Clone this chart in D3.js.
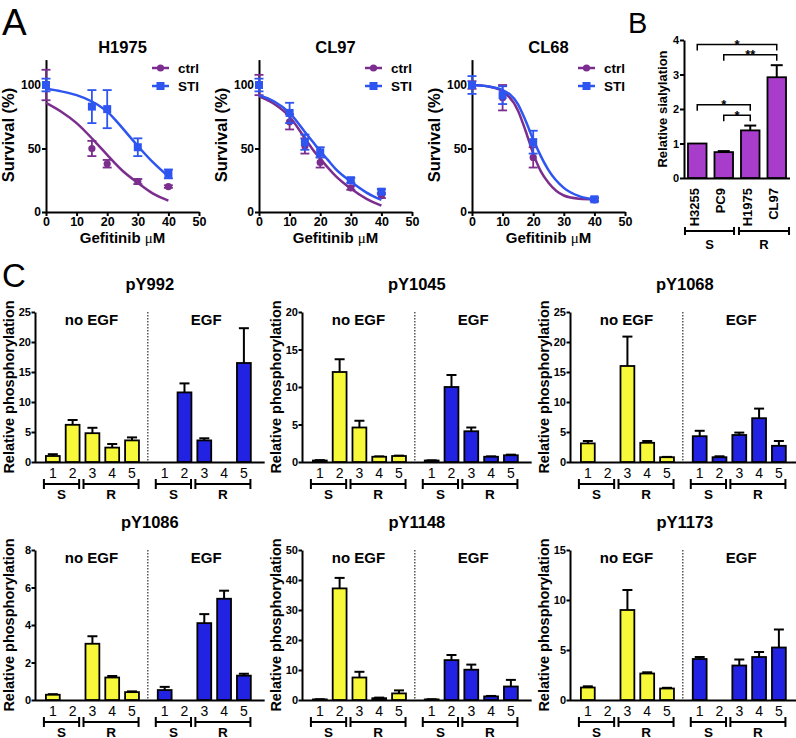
<!DOCTYPE html>
<html>
<head>
<meta charset="utf-8">
<script src="https://cdn.jsdelivr.net/npm/d3@7"></script>
<style>
body { margin: 0; background: #fff; }
svg { display: block; }
</style>
</head>
<body>
<svg id="fig" width="796" height="738"></svg>
<script>
/* ---- panel A: survival data ---- */
var doseTicks = [0, 10, 20, 30, 40, 50];
var survTicks = [0, 50, 100];
var fitDose = [0, 5, 10, 15, 17.5, 20, 22.5, 25, 30, 35, 40];

var h1975Dose = [0, 15, 20, 30, 40];
var h1975Ctrl = [100, 50, 38, 24, 20];
var h1975CtrlErr = [12, 6, 3, 2, 1];
var h1975Sti = [100, 83, 81, 51, 30];
var h1975StiErr = [5, 13, 15, 7, 3.5];
var h1975CtrlFit = [86, 79, 70, 58, 51.5, 45, 38.5, 32.5, 23, 14.5, 9];
var h1975StiFit = [97, 95, 92, 87, 83.5, 79, 73, 66, 52, 39, 28];

var cl97Dose = [0, 10, 15, 20, 30, 40];
var cl97Ctrl = [100, 71, 52, 39, 19, 13];
var cl97CtrlErr = [8, 6, 6, 4, 1.5, 2];
var cl97Sti = [100, 78, 55, 47, 25, 16];
var cl97StiErr = [5, 8, 6, 4, 2, 2];
var cl97CtrlFit = [91, 85, 75, 58, 49.5, 42, 35, 28.5, 18.5, 10.5, 5];
var cl97StiFit = [92, 87, 78, 63, 55.5, 48, 41, 34, 24, 15.5, 9.5];

var cl68Dose = [0, 10, 20, 40];
var cl68Ctrl = [100, 90, 43, 9.5];
var cl68CtrlErr = [3, 10, 8, 1];
var cl68Sti = [100, 92, 55, 10];
var cl68StiErr = [7, 7, 9, 1.5];
var cl68CtrlFit = [100, 99, 95, 80, 64, 46, 32, 23, 13, 10.5, 10];
var cl68StiFit = [100, 99, 96, 85, 72, 57, 44, 33, 19, 12.5, 10];

var survNames = ["H1975", "CL97", "CL68"];
var survSeries = ["ctrl", "STI"];

/* ---- panel B: sialylation ---- */
var sialCells = ["H3255", "PC9", "H1975", "CL97"];
var sialValue = [1.0, 0.75, 1.38, 2.92];
var sialErr = [0, 0.03, 0.14, 0.35];
var sialTicks = [0, 1, 2, 3, 4];
var sialGroups = [["S", "H3255", "PC9"], ["R", "H1975", "CL97"]];
var sialSig = [["PC9", "H1975", "*"], ["H3255", "H1975", "*"], ["PC9", "CL97", "**"], ["H3255", "CL97", "*"]];

/* ---- panel C: phosphorylation ---- */
var siteNames = ["pY992", "pY1045", "pY1068", "pY1086", "pY1148", "pY1173"];
var lineLabels = ["1", "2", "3", "4", "5"];
var lineGroups = [["S", 0, 1], ["R", 2, 4]];
var siteMax = [25, 20, 25, 8, 50, 15];
var siteStep = [5, 5, 5, 2, 10, 5];
var noEgf = [
  [1.0, 6.2, 4.8, 2.4, 3.6],
  [0.2, 12.0, 4.6, 0.7, 0.8],
  [3.1, 0, 16.0, 3.2, 0.8],
  [0.28, 0, 3.0, 1.2, 0.42],
  [0.2, 37.2, 7.5, 0.6, 2.2],
  [1.25, 0, 9.0, 2.65, 1.15]
];
var noEgfErr = [
  [0.3, 0.8, 0.9, 0.6, 0.5],
  [0.05, 1.7, 0.9, 0.05, 0.05],
  [0.4, 0, 4.9, 0.3, 0.05],
  [0.03, 0, 0.4, 0.08, 0.04],
  [0.05, 3.5, 1.9, 0.2, 1.0],
  [0.12, 0, 2.0, 0.12, 0.07]
];
var egf = [
  [0, 11.6, 3.6, 0, 16.5],
  [0.2, 10.0, 4.1, 0.7, 0.9],
  [4.3, 0.8, 4.5, 7.3, 2.7],
  [0.53, 0, 4.1, 5.4, 1.3],
  [0.2, 13.3, 10.1, 1.2, 4.5],
  [4.1, 0, 3.45, 4.3, 5.25]
];
var egfErr = [
  [0, 1.5, 0.35, 0, 5.8],
  [0.02, 1.6, 0.5, 0.05, 0.08],
  [0.9, 0.15, 0.4, 1.6, 0.8],
  [0.17, 0, 0.48, 0.43, 0.1],
  [0.05, 1.7, 1.7, 0.15, 2.2],
  [0.2, 0, 0.6, 0.5, 1.8]
];

var FONT = '"Liberation Sans", Arial, Helvetica, sans-serif';
var CTRL = "#7b2e8e", STI = "#2e55f0";
var PURPLE = "#a83dcc", YELLOW = "#f8f83a", BLUE = "#2222e2";
var intFmt = d3.format("d");

var svg = d3.select("#fig").attr("font-family", FONT);
svg.append("rect").attr("width", 796).attr("height", 738).attr("fill", "#fff");

function styleAxis(g, size) {
  g.attr("font-family", FONT).attr("font-size", size).attr("font-weight", "bold");
  g.select(".domain").attr("stroke", "#000").attr("stroke-width", 2);
  g.selectAll(".tick line").attr("stroke", "#000").attr("stroke-width", 2);
  g.selectAll(".tick text").attr("fill", "#000");
}

function label(g, txt, x, y, size, opts) {
  opts = opts || {};
  return g.append("text").attr("x", x).attr("y", y)
    .attr("font-size", size)
    .attr("font-weight", opts.weight || "bold")
    .attr("text-anchor", opts.anchor || "middle")
    .attr("fill", "#000")
    .text(txt);
}

/* ================= Panel A ================= */
label(svg, "A", 2, 35, 37, { weight: "normal", anchor: "start" });

var survData = [
  { dose: h1975Dose, ctrl: h1975Ctrl, ctrlErr: h1975CtrlErr, sti: h1975Sti, stiErr: h1975StiErr, ctrlFit: h1975CtrlFit, stiFit: h1975StiFit },
  { dose: cl97Dose, ctrl: cl97Ctrl, ctrlErr: cl97CtrlErr, sti: cl97Sti, stiErr: cl97StiErr, ctrlFit: cl97CtrlFit, stiFit: cl97StiFit },
  { dose: cl68Dose, ctrl: cl68Ctrl, ctrlErr: cl68CtrlErr, sti: cl68Sti, stiErr: cl68StiErr, ctrlFit: cl68CtrlFit, stiFit: cl68StiFit }
];
var survLeft = [46, 259, 472];

survNames.forEach(function (name, k) {
  var d = survData[k];
  var g = svg.append("g");
  var x = d3.scaleLinear().domain([0, 50]).range([survLeft[k], survLeft[k] + 153]);
  var y = d3.scaleLinear().domain([0, 120]).range([212, 59.6]);

  g.append("g").attr("transform", "translate(0,212)")
    .call(d3.axisBottom(x).tickValues(doseTicks).tickFormat(intFmt).tickSize(4).tickSizeOuter(0).tickPadding(1))
    .call(styleAxis, 12.5);
  g.append("g").attr("transform", "translate(" + survLeft[k] + ",0)")
    .call(d3.axisLeft(y).tickValues(survTicks).tickFormat(intFmt).tickSize(4).tickSizeOuter(0).tickPadding(1))
    .call(styleAxis, 12);

  label(g, name, x(25), 53, 16.5);
  var xl = label(g, "Gefitinib ", x(25), 243, 15);
  xl.append("tspan").attr("font-family", '"Liberation Serif", serif').attr("font-weight", "normal").text("\u03bc");
  xl.append("tspan").text("M");
  label(g, "Survival (%)", 0, 0, 16.5)
    .attr("transform", "translate(" + (survLeft[k] - 32) + ",135) rotate(-90)");

  var line = d3.line().x(function (p) { return x(p[0]); }).y(function (p) { return y(p[1]); })
    .curve(d3.curveMonotoneX);

  [["ctrl", CTRL, d.ctrl, d.ctrlErr, d.ctrlFit], ["STI", STI, d.sti, d.stiErr, d.stiFit]].forEach(function (s) {
    var color = s[1];
    g.append("path").datum(d3.zip(fitDose, s[4]))
      .attr("d", line).attr("fill", "none").attr("stroke", color).attr("stroke-width", 2.5);
    var pts = d3.zip(d.dose, s[2], s[3]);
    var eb = g.append("g").attr("stroke", color).attr("stroke-width", 1.8);
    pts.forEach(function (p) {
      var cx = x(p[0]), y1 = y(p[1] + p[2]), y2 = y(p[1] - p[2]);
      eb.append("line").attr("x1", cx).attr("x2", cx).attr("y1", y1).attr("y2", y2);
      eb.append("line").attr("x1", cx - 4.5).attr("x2", cx + 4.5).attr("y1", y1).attr("y2", y1);
      eb.append("line").attr("x1", cx - 4.5).attr("x2", cx + 4.5).attr("y1", y2).attr("y2", y2);
    });
    if (s[0] === "ctrl") {
      g.selectAll(null).data(pts).enter().append("circle")
        .attr("cx", function (p) { return x(p[0]); }).attr("cy", function (p) { return y(p[1]); })
        .attr("r", 3.6).attr("fill", color);
    } else {
      g.selectAll(null).data(pts).enter().append("rect")
        .attr("x", function (p) { return x(p[0]) - 4; }).attr("y", function (p) { return y(p[1]) - 4; })
        .attr("width", 8).attr("height", 8).attr("fill", color);
    }
  });

  // legend
  survSeries.forEach(function (s, i) {
    var ly = 68 + i * 18, lx = survLeft[k] + 106, color = i === 0 ? CTRL : STI;
    g.append("line").attr("x1", lx).attr("x2", lx + 17).attr("y1", ly).attr("y2", ly)
      .attr("stroke", color).attr("stroke-width", 2.5);
    if (i === 0) g.append("circle").attr("cx", lx + 8.5).attr("cy", ly).attr("r", 3.6).attr("fill", color);
    else g.append("rect").attr("x", lx + 4.5).attr("y", ly - 4).attr("width", 8).attr("height", 8).attr("fill", color);
    label(g, s, lx + 26, ly + 4.5, 13.5, { anchor: "start" });
  });
});

/* ================= Panel B ================= */
label(svg, "B", 628, 33, 29, { weight: "normal", anchor: "start" });
(function () {
  var g = svg.append("g");
  var x = d3.scaleBand().domain(sialCells).range([684, 790]).paddingInner(0.3).paddingOuter(0.15);
  var y = d3.scaleLinear().domain([0, 4]).range([178, 40]);

  g.append("g").attr("transform", "translate(684,0)")
    .call(d3.axisLeft(y).tickValues(sialTicks).tickFormat(intFmt).tickSize(4).tickSizeOuter(0).tickPadding(1))
    .call(styleAxis, 11);
  g.append("line").attr("x1", 684).attr("x2", 790).attr("y1", 178.5).attr("y2", 178.5)
    .attr("stroke", "#000").attr("stroke-width", 2);

  var rows = d3.zip(sialCells, sialValue, sialErr);
  rows.forEach(function (r) {
    var cx = x(r[0]) + x.bandwidth() / 2;
    if (r[2] > 0) {
      g.append("line").attr("x1", cx).attr("x2", cx).attr("y1", y(r[1])).attr("y2", y(r[1] + r[2]))
        .attr("stroke", "#000").attr("stroke-width", 2);
      g.append("line").attr("x1", cx - 6).attr("x2", cx + 6).attr("y1", y(r[1] + r[2])).attr("y2", y(r[1] + r[2]))
        .attr("stroke", "#000").attr("stroke-width", 2);
    }
  });
  g.selectAll(null).data(rows).enter().append("rect")
    .attr("x", function (r) { return x(r[0]); })
    .attr("y", function (r) { return y(r[1]); })
    .attr("width", x.bandwidth())
    .attr("height", function (r) { return y(0) - y(r[1]); })
    .attr("fill", PURPLE).attr("stroke", "#000").attr("stroke-width", 1.8);

  // category labels
  sialCells.forEach(function (c) {
    var cx = x(c) + x.bandwidth() / 2 - 3;
    label(g, c, 0, 0, 13, { anchor: "end" })
      .attr("transform", "translate(" + (cx + 4.7) + ",188) rotate(-90)");
  });
  // group brackets
  sialGroups.forEach(function (grp, i) {
    var x1 = x(grp[1]) - 3 + (i ? 1 : 0), x2 = x(grp[2]) + x.bandwidth() + 3 - (i ? 0 : 2);
    g.append("path").attr("d", "M" + x1 + ",227V235M" + x1 + ",231H" + x2 + "M" + x2 + ",227V235")
      .attr("stroke", "#000").attr("stroke-width", 2).attr("fill", "none");
    label(g, grp[0], (x1 + x2) / 2, 249, 13);
  });
  // significance brackets
  var used = {};
  sialSig.forEach(function (s) {
    var i1 = sialCells.indexOf(s[0]), i2 = sialCells.indexOf(s[1]);
    var top = d3.max(d3.range(i1, i2 + 1), function (i) { return sialValue[i] + sialErr[i]; });
    var lvl = used[s[1]] || 0;
    used[s[1]] = lvl + 1;
    var ly = y(top + 0.3 + 0.3 * lvl);
    var x1 = x(s[0]) + x.bandwidth() / 2, x2 = x(s[1]) + x.bandwidth() / 2;
    g.append("path").attr("d", "M" + x1 + "," + (ly + 6) + "V" + ly + "H" + x2 + "V" + (ly + 6))
      .attr("stroke", "#000").attr("stroke-width", 1.5).attr("fill", "none");
    label(g, s[2], (x1 + x2) / 2, ly + 4.5, 13);
  });
  label(g, "Relative sialylation", 0, 0, 13)
    .attr("transform", "translate(667,109) rotate(-90)");
})();

/* ================= Panel C ================= */
label(svg, "C", 2, 287, 33, { weight: "normal", anchor: "start" });
var colX = [35, 302, 570], rowTop = [312, 550], plotH = 150, slotW = 19.8;

siteNames.forEach(function (site, i) {
  var col = i % 3, row = Math.floor(i / 3);
  var ax = colX[col], top = rowTop[row], bottom = top + plotH;
  var g = svg.append("g");
  var x = d3.scaleLinear().domain([0, 11.6]).range([ax, ax + 11.6 * slotW]);
  var y = d3.scaleLinear().domain([0, siteMax[i]]).range([bottom, top]);
  var bw = 0.7 * slotW;

  g.append("g").attr("transform", "translate(" + ax + ",0)")
    .call(d3.axisLeft(y).tickValues(d3.range(0, siteMax[i] + 0.001, siteStep[i])).tickFormat(intFmt).tickSize(3.5).tickSizeOuter(0).tickPadding(0.5))
    .call(styleAxis, 11);
  g.append("line").attr("x1", ax).attr("x2", x(11.6)).attr("y1", bottom + 0.5).attr("y2", bottom + 0.5)
    .attr("stroke", "#000").attr("stroke-width", 2);

  // divider
  g.append("line").attr("x1", x(5.7)).attr("x2", x(5.7)).attr("y1", top).attr("y2", bottom)
    .attr("stroke", "#000").attr("stroke-width", 1).attr("stroke-dasharray", "1.5,1.5");

  label(g, site, x(5.8), top - 22, 16.5);
  label(g, "no EGF", x(2.85), top + 12.5, 15);
  label(g, "EGF", x(8.65), top + 12.5, 15);
  label(g, "Relative phosphorylation", 0, 0, 14.5)
    .attr("transform", "translate(" + (ax - 21) + "," + (top + plotH / 2) + ") rotate(-90)");

  [[noEgf[i], noEgfErr[i], 0.9, YELLOW], [egf[i], egfErr[i], 6.55, BLUE]].forEach(function (c) {
    var start = c[2];
    var rows = d3.zip(lineLabels, c[0], c[1]);
    rows.forEach(function (r, j) {
      var cx = x(start + j);
      if (r[1] > 0 && r[2] > 0) {
        var yt = y(r[1] + r[2]);
        g.append("line").attr("x1", cx).attr("x2", cx).attr("y1", y(r[1])).attr("y2", yt)
          .attr("stroke", "#000").attr("stroke-width", 2);
        g.append("line").attr("x1", cx - 5).attr("x2", cx + 5).attr("y1", yt).attr("y2", yt)
          .attr("stroke", "#000").attr("stroke-width", 2);
      }
      label(g, r[0], cx, bottom + 16, 14, { weight: "normal" });
    });
    g.selectAll(null).data(rows.map(function (r, j) { return [j, r[1]]; }).filter(function (r) { return r[1] > 0; }))
      .enter().append("rect")
      .attr("x", function (r) { return x(start + r[0]) - bw / 2; })
      .attr("y", function (r) { return y(r[1]); })
      .attr("width", bw)
      .attr("height", function (r) { return y(0) - y(r[1]); })
      .attr("fill", c[3]).attr("stroke", "#000").attr("stroke-width", 1.8);

    lineGroups.forEach(function (grp) {
      var x1 = x(start + grp[1] - 0.45), x2 = x(start + grp[2] + 0.33);
      var by = bottom + 22;
      g.append("path").attr("d", "M" + x1 + "," + (by - 5) + "V" + (by + 5) + "M" + x1 + "," + by + "H" + x2 + "M" + x2 + "," + (by - 5) + "V" + (by + 5))
        .attr("stroke", "#000").attr("stroke-width", 2).attr("fill", "none");
      label(g, grp[0], (x1 + x2) / 2, bottom + 36.5, 13.5);
    });
  });
});
</script>
</body>
</html>
